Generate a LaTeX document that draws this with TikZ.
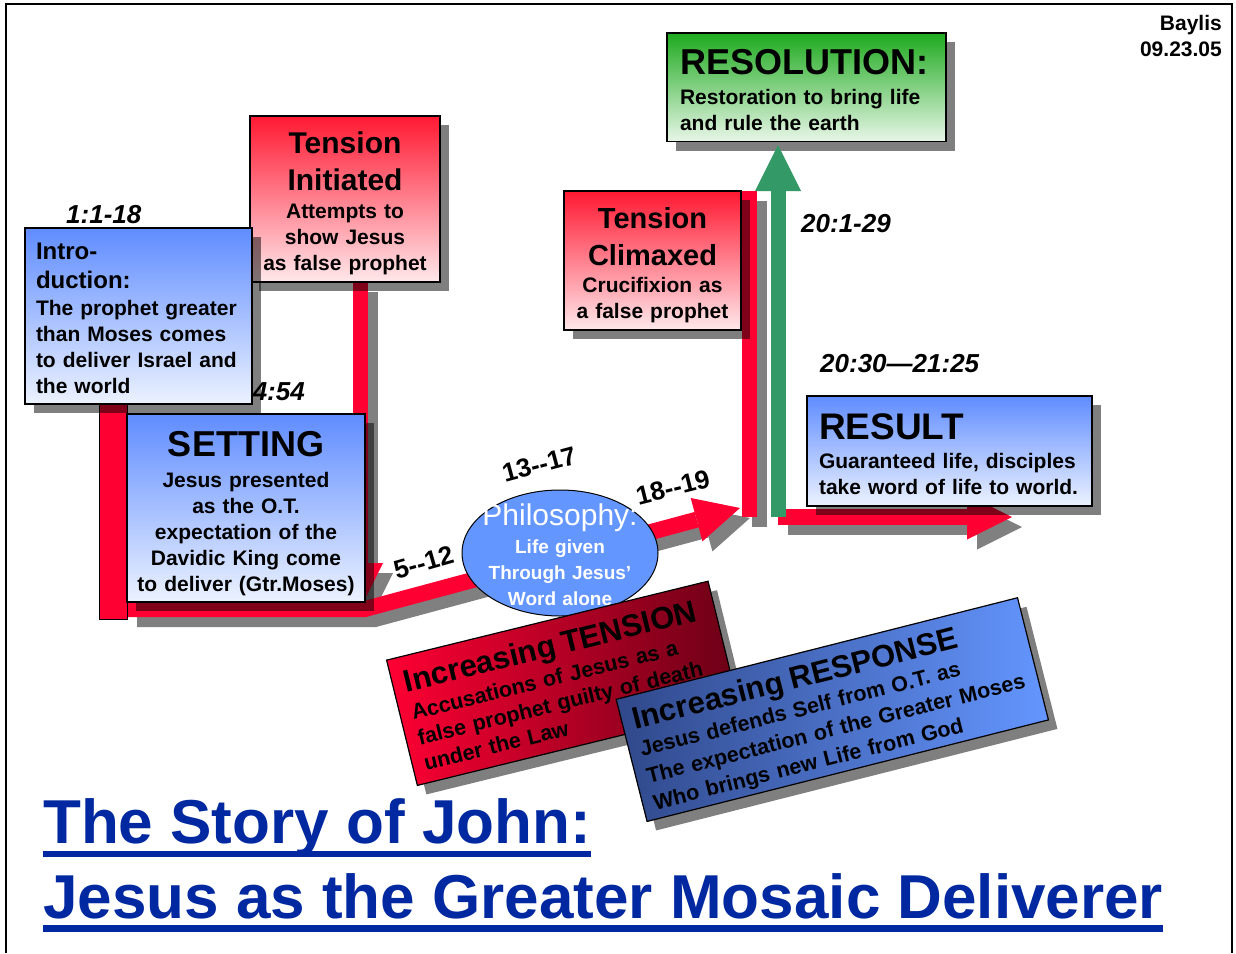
\documentclass[tikz,border=0pt]{standalone}
\usepackage{fontspec}
\setmainfont{Liberation Sans}
\usetikzlibrary{arrows.meta,shapes.geometric,shadows}

\definecolor{arrowred}{RGB}{255,0,51}
\definecolor{shadowgray}{RGB}{128,128,128}
\definecolor{arrowgreen}{RGB}{51,153,102}
\definecolor{redtop}{RGB}{255,25,50}
\definecolor{redbottom}{RGB}{255,232,235}
\definecolor{bluetop}{RGB}{95,140,255}
\definecolor{bluebottom}{RGB}{236,242,255}
\definecolor{greentop}{RGB}{30,170,30}
\definecolor{greenbottom}{RGB}{232,246,232}
\definecolor{philoblue}{RGB}{100,150,255}
\definecolor{tensiondark}{RGB}{105,0,22}
\definecolor{responsedark}{RGB}{48,72,138}
\definecolor{titleblue}{RGB}{0,40,160}

\newcommand{\bodyfont}{\fontsize{21}{26}\selectfont\bfseries}

\begin{document}
\begin{tikzpicture}[
    x=1pt, y=-1pt,
    storybox/.style={draw=black,line width=1.2pt,inner ysep=0pt,font=\bodyfont,
        drop shadow={shadow xshift=9pt,shadow yshift=-9pt,opacity=.5,fill=black}},
    redbox/.style={storybox,top color=redtop,bottom color=redbottom,align=center},
    bluebox/.style={storybox,top color=bluetop,bottom color=bluebottom},
    greenbox/.style={storybox,top color=greentop,bottom color=greenbottom,align=left},
    flow/.style={draw=arrowred,line width=15.5pt},
    flowtip/.style={-{Triangle[length=45pt,width=45pt,line width=0pt 0 0]}},
    flowshadow/.style={draw=shadowgray,transform canvas={shift={(10pt,-10pt)}}},
    philo/.style={ellipse,draw=black,line width=1pt,fill=philoblue,minimum width=196pt,minimum height=126pt,inner sep=0pt},
    philotext/.style={text=white,font=\fontsize{19}{26}\selectfont\bfseries,align=center,text width=190pt,
        inner sep=0pt,text height=22pt,text depth=78pt},
    verse/.style={font=\fontsize{26}{30}\selectfont\bfseries\itshape,inner sep=0pt,anchor=base west},
    chapters/.style={font=\fontsize{26}{30}\selectfont\bfseries,inner sep=0pt,anchor=base},
    storytitle/.style={font=\fontsize{62}{70}\selectfont\bfseries,text=titleblue,inner sep=0pt,anchor=base west}
]
    \useasboundingbox[fill=white] (0,0) rectangle (1236,953);
    \draw[line width=1.5pt] (6,953) -- (6,4) -- (1232,4) -- (1232,953);

    \coordinate (initFoot) at (360.5,282);
    \coordinate (bandTip) at (360.5,608);
    \coordinate (barFoot) at (127,609);
    \coordinate (bandBend) at (365,609);
    \coordinate (climaxTip) at (740,508);
    \coordinate (climaxTop) at (749.5,191);
    \coordinate (climaxFoot) at (749.5,517);
    \coordinate (resultStart) at (778,517);
    \coordinate (resultTip) at (1012,517);
    \coordinate (riseTip) at (778,145);

    \draw[flow,flowtip,flowshadow] (initFoot) -- (bandTip);
    \draw[flow,flowtip,flowshadow,line width=16pt] (barFoot) -- (bandBend) -- (climaxTip);
    \draw[flow,flowshadow] (climaxTop) -- (climaxFoot);
    \draw[flow,flowtip,flowshadow] (resultStart) -- (resultTip);

    \draw[flow,flowtip] (initFoot) -- (bandTip);
    \draw[flow,flowtip,line width=16pt] (barFoot) -- (bandBend) -- (climaxTip);
    \draw[flow] (climaxTop) -- (climaxFoot);
    \draw[flow,flowtip] (resultStart) -- (resultTip);
    \draw[fill=arrowred,line width=1pt] (99,395) rectangle (127,619);

    \node[verse] (introverse) at (66,223) {1:1-18};
    \node[verse,anchor=base east] (settingverse) at (305,400) {4:54};
    \node[verse] (resolutionverse) at (801,232) {20:1-29};
    \node[verse] (resultverse) at (820,372) {20:30—21:25};
    \node[chapters,rotate=16] (chapters5) at (426,571) {5-\kern0pt-12};
    \node[chapters,rotate=15] (chapters13) at (541.5,473) {13-\kern0pt-17};
    \node[chapters,rotate=14] (chapters18) at (675,496) {18-\kern0pt-19};

    \node[redbox,text width=176pt,inner xsep=7pt,text height=37pt,text depth=129pt] (initiated) at (345,199)
        {{\fontsize{30}{37}\selectfont Tension\\[11pt]Initiated}\\[2pt]Attempts to\\show Jesus\\as false prophet};
    \node[bluebox,align=left,text width=205pt,inner xsep=11pt,text height=31pt,text depth=145pt] (intro) at (138.5,316)
        {{\fontsize{24}{29}\selectfont Intro-\\[3pt]duction:}\\[1pt]The prophet greater\\than Moses comes\\to deliver Israel and\\the world};
    \node[bluebox,align=center,text width=224pt,inner xsep=7pt,text height=42pt,text depth=146pt] (setting) at (246,508)
        {{\fontsize{36}{40}\selectfont SETTING}\\[5pt]Jesus presented\\as the O.T.\\expectation of the\\Davidic King come\\to deliver (Gtr.Moses)};
    \node[redbox,text width=165pt,inner xsep=6pt,text height=37pt,text depth=102pt] (climaxed) at (652.5,260.5)
        {{\fontsize{29}{37}\selectfont Tension\\[11pt]Climaxed}\\[1pt]Crucifixion as\\a false prophet};
    \node[greenbox,text width=253pt,inner xsep=13pt,text height=41pt,text depth=67.5pt] (resolution) at (806.5,87.25)
        {{\fontsize{36}{40}\selectfont RESOLUTION:}\\[4pt]Restoration to bring life\\and rule the earth};
    \draw[draw=arrowgreen,line width=15pt,-{Triangle[length=46pt,width=46pt,line width=0pt 0 0]}] (resultStart) -- (riseTip);
    \node[bluebox,align=left,text width=261pt,inner xsep=12pt,text height=43pt,text depth=67pt] (result) at (949.5,451)
        {{\fontsize{37}{40}\selectfont RESULT}\\[3pt]Guaranteed life, disciples\\take word of life to world.};

    \node[philo,label={[philotext]center:{{\fontsize{30}{32}\selectfont\mdseries Philosophy:}\\[2pt]Life given\\Through Jesus’\\Word alone}}] (philosophy) at (560,553) {};

    \node[storybox,rotate=13.8,left color=arrowred,right color=tensiondark,align=left,font=\fontsize{21.5}{26}\selectfont\bfseries,
        text width=307pt,inner xsep=12pt,text height=36pt,text depth=93pt] (tension) at (562.7,683.3)
        {{\fontsize{31}{34}\selectfont Increasing TENSION}\\[2.5pt]Accusations of Jesus as a\\false prophet guilty of death\\under the Law};
    \node[storybox,rotate=14.2,left color=responsedark,right color=philoblue,align=left,font=\fontsize{21.5}{27.5}\selectfont\bfseries,
        text width=392pt,inner xsep=11pt,text height=34pt,text depth=92pt] (response) at (832.3,709.6)
        {{\fontsize{31}{34}\selectfont Increasing RESPONSE}\\[0.5pt]Jesus defends Self from O.T. as\\The expectation of the Greater Moses\\Who brings new Life from God};

    \node[font=\bodyfont,align=right,anchor=north east,inner sep=0pt] (author) at (1222,15) {Baylis\\09.23.05};

    \node[storytitle] (title) at (43,843) {The Story of John:};
    \node[storytitle] (subtitle) at (43,918) {Jesus as the Greater Mosaic Deliverer};
    \fill[titleblue] ([yshift=-8pt]title.base west) rectangle ([yshift=-14pt]title.base east);
    \fill[titleblue] ([yshift=-7pt]subtitle.base west) rectangle ([yshift=-13.5pt]subtitle.base east);
\end{tikzpicture}
\end{document}
